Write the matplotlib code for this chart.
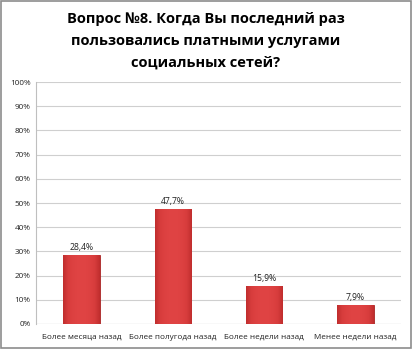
import numpy as np
import matplotlib.pyplot as plt
from matplotlib.patches import Rectangle

plt.rcParams['font.family'] = ['Open Sans', 'DejaVu Sans']

categories = ["Более месяца назад", "Более полугода назад",
              "Более недели назад", "Менее недели назад"]
values = [28.4, 47.7, 15.9, 7.9]
value_labels = ["28,4%", "47,7%", "15,9%", "7,9%"]
title = "Вопрос №8. Когда Вы последний раз\nпользовались платными услугами\nсоциальных сетей?"

fig = plt.figure(figsize=(4.12, 3.49), dpi=100)
fig.patch.set_facecolor("white")
fig.patches.append(Rectangle((0.002, 0.003), 0.995, 0.994, transform=fig.transFigure,
                             fill=False, edgecolor="#8c8c8c", linewidth=1.2))

ax = fig.add_axes([36 / 412, 1 - 324 / 349, 365 / 412, 242 / 349])

x = np.arange(len(categories))
bars = ax.bar(x, values, width=0.4, color="#d63a3a", edgecolor="#a82424",
              linewidth=0.6, zorder=3)

# soft horizontal shading inside every bar
grad = np.abs(np.linspace(-1, 1, 64))[None, :] ** 2
cmap = plt.matplotlib.colors.LinearSegmentedColormap.from_list(
    "bar", ["#e04444", "#d83d3d", "#c02d2d"])
for b in bars:
    x0, w, h = b.get_x(), b.get_width(), b.get_height()
    im = ax.imshow(grad, cmap=cmap, extent=(x0, x0 + w, 0, h), aspect="auto",
                   zorder=3.5, interpolation="bicubic")
    im.set_clip_path(b)

for xi, v, lab in zip(x, values, value_labels):
    ax.text(xi, v + 1.2, lab, ha="center", va="bottom", fontsize=6.2, color="#222222")

ax.set_xlim(-0.5, len(categories) - 0.5)
ax.set_ylim(0, 100)
ax.set_yticks(np.arange(0, 101, 10))
ax.set_yticklabels([f"{t}%" for t in range(0, 101, 10)])
ax.set_xticks(x)
ax.set_xticklabels(categories)
ax.tick_params(axis="both", labelsize=5.9, colors="#222222", length=0)
ax.tick_params(axis="x", pad=7)
ax.tick_params(axis="y", pad=4)
ax.grid(axis="y", color="#cfcfcf", linewidth=0.8, zorder=0)
for side in ["top", "right", "bottom"]:
    ax.spines[side].set_visible(False)
ax.spines["left"].set_color("#bfbfbf")
ax.axhline(0, color="#bfbfbf", linewidth=0.8, zorder=2)

fig.text(0.5, 0.965, title, ha="center", va="top", fontsize=10.5,
         fontweight="bold", linespacing=1.7)

fig.savefig("out.png", dpi=100)
